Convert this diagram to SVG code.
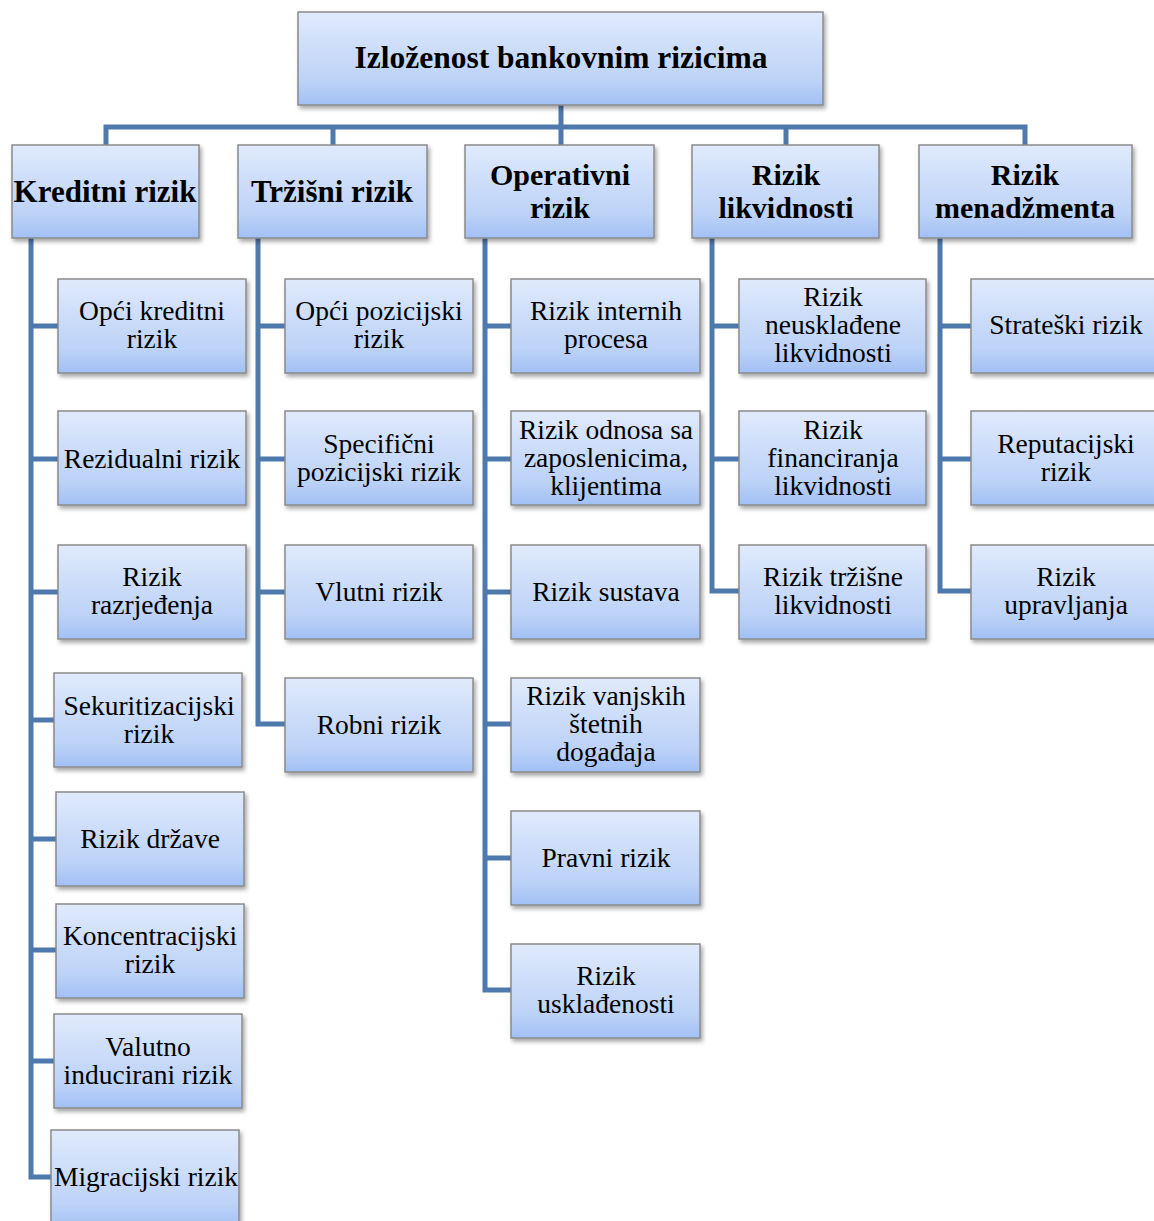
<svg xmlns="http://www.w3.org/2000/svg" width="1154" height="1221" viewBox="0 0 1154 1221">
<defs>
<linearGradient id="g" x1="0" y1="0" x2="0" y2="1">
<stop offset="0" stop-color="#e0eafc"/>
<stop offset="0.75" stop-color="#bcd2f7"/>
<stop offset="1" stop-color="#a2c0f5"/>
</linearGradient>
<filter id="sh" x="-10%" y="-10%" width="125%" height="130%">
<feDropShadow dx="2" dy="3" stdDeviation="2" flood-color="#000" flood-opacity="0.35"/>
</filter>
<style>
.b{fill:url(#g);stroke:#8a8a8a;stroke-width:1.5;filter:url(#sh)}
.h{font-family:"Liberation Serif","DejaVu Serif",serif;font-weight:bold;font-size:31px;fill:#000;text-anchor:middle}
.h2{font-family:"Liberation Serif","DejaVu Serif",serif;font-weight:bold;font-size:30px;fill:#000;text-anchor:middle}
.r{font-family:"Liberation Serif","DejaVu Serif",serif;font-weight:bold;font-size:31.5px;fill:#000;text-anchor:middle}
.t{font-family:"Liberation Serif","DejaVu Serif",serif;font-size:27.5px;fill:#000;text-anchor:middle}
.c{fill:none;stroke:#4e79ad;stroke-width:5;stroke-linejoin:miter}
</style>
</defs>
<rect width="1154" height="1221" fill="#fff"/>
<g id="connectors">
<path class="c" d="M106 145V127H1025V145M561 105V145M333 127V145M786 127V145"/>
<path class="c" d="M31 238V1177H51M31 326H58M31 459H58M31 592H58M31 720H54M31 839H56M31 950H56M31 1061H54"/>
<path class="c" d="M258 238V724H285M258 326H285M258 459H285M258 592H285"/>
<path class="c" d="M485 238V990H511M485 326H511M485 459H511M485 592H511M485 724H511M485 858H511"/>
<path class="c" d="M712 238V591H739M712 326H739M712 459H739"/>
<path class="c" d="M940 238V591H971M940 326H971M940 459H971"/>
</g>
<g id="root"><rect class="b" x="298" y="12" width="525" height="93"/><text class="r" x="561" y="68">Izloženost bankovnim rizicima</text></g>
<g id="kreditni"><rect class="b" x="12" y="145" width="187" height="93"/><text class="h" x="105" y="202">Kreditni rizik</text></g>
<g id="trzisni"><rect class="b" x="238" y="145" width="189" height="93"/><text class="h" x="332" y="202">Tržišni rizik</text></g>
<g id="operativni"><rect class="b" x="465" y="145" width="189" height="93"/><text class="h2" x="560" y="185">Operativni</text><text class="h2" x="560" y="218">rizik</text></g>
<g id="likvidnosti"><rect class="b" x="692" y="145" width="187" height="93"/><text class="h2" x="786" y="185">Rizik</text><text class="h2" x="786" y="218">likvidnosti</text></g>
<g id="menadzmenta"><rect class="b" x="919" y="145" width="213" height="93"/><text class="h2" x="1025" y="185">Rizik</text><text class="h2" x="1025" y="218">menadžmenta</text></g>

<g id="k1"><rect class="b" x="58" y="279" width="188" height="94"/><text class="t" x="152" y="320">Opći kreditni</text><text class="t" x="152" y="348">rizik</text></g>
<g id="k2"><rect class="b" x="58" y="411" width="188" height="94"/><text class="t" x="152" y="468">Rezidualni rizik</text></g>
<g id="k3"><rect class="b" x="58" y="545" width="188" height="94"/><text class="t" x="152" y="586">Rizik</text><text class="t" x="152" y="614">razrjeđenja</text></g>
<g id="k4"><rect class="b" x="54" y="673" width="188" height="94"/><text class="t" x="149" y="715">Sekuritizacijski</text><text class="t" x="149" y="743">rizik</text></g>
<g id="k5"><rect class="b" x="56" y="792" width="188" height="94"/><text class="t" x="150" y="848">Rizik države</text></g>
<g id="k6"><rect class="b" x="56" y="904" width="188" height="94"/><text class="t" x="150" y="945">Koncentracijski</text><text class="t" x="150" y="973">rizik</text></g>
<g id="k7"><rect class="b" x="54" y="1014" width="188" height="94"/><text class="t" x="148" y="1056">Valutno</text><text class="t" x="148" y="1084">inducirani rizik</text></g>
<g id="k8"><rect class="b" x="51" y="1130" width="188" height="100"/><text class="t" x="146" y="1186">Migracijski rizik</text></g>

<g id="t1"><rect class="b" x="285" y="279" width="188" height="94"/><text class="t" x="379" y="320">Opći pozicijski</text><text class="t" x="379" y="348">rizik</text></g>
<g id="t2"><rect class="b" x="285" y="411" width="188" height="94"/><text class="t" x="379" y="453">Specifični</text><text class="t" x="379" y="481">pozicijski rizik</text></g>
<g id="t3"><rect class="b" x="285" y="545" width="188" height="94"/><text class="t" x="379" y="601">Vlutni rizik</text></g>
<g id="t4"><rect class="b" x="285" y="678" width="188" height="94"/><text class="t" x="379" y="734">Robni rizik</text></g>

<g id="o1"><rect class="b" x="511" y="279" width="189" height="94"/><text class="t" x="606" y="320">Rizik internih</text><text class="t" x="606" y="348">procesa</text></g>
<g id="o2"><rect class="b" x="511" y="411" width="189" height="94"/><text class="t" x="606" y="439">Rizik odnosa sa</text><text class="t" x="606" y="467">zaposlenicima,</text><text class="t" x="606" y="495">klijentima</text></g>
<g id="o3"><rect class="b" x="511" y="545" width="189" height="94"/><text class="t" x="606" y="601">Rizik sustava</text></g>
<g id="o4"><rect class="b" x="511" y="678" width="189" height="94"/><text class="t" x="606" y="705">Rizik vanjskih</text><text class="t" x="606" y="733">štetnih</text><text class="t" x="606" y="761">događaja</text></g>
<g id="o5"><rect class="b" x="511" y="811" width="189" height="94"/><text class="t" x="606" y="867">Pravni rizik</text></g>
<g id="o6"><rect class="b" x="511" y="944" width="189" height="94"/><text class="t" x="606" y="985">Rizik</text><text class="t" x="606" y="1013">usklađenosti</text></g>

<g id="l1"><rect class="b" x="739" y="279" width="187" height="94"/><text class="t" x="833" y="306">Rizik</text><text class="t" x="833" y="334">neusklađene</text><text class="t" x="833" y="362">likvidnosti</text></g>
<g id="l2"><rect class="b" x="739" y="411" width="187" height="94"/><text class="t" x="833" y="439">Rizik</text><text class="t" x="833" y="467">financiranja</text><text class="t" x="833" y="495">likvidnosti</text></g>
<g id="l3"><rect class="b" x="739" y="545" width="187" height="94"/><text class="t" x="833" y="586">Rizik tržišne</text><text class="t" x="833" y="614">likvidnosti</text></g>

<g id="m1"><rect class="b" x="971" y="279" width="190" height="94"/><text class="t" x="1066" y="334">Strateški rizik</text></g>
<g id="m2"><rect class="b" x="971" y="411" width="190" height="94"/><text class="t" x="1066" y="453">Reputacijski</text><text class="t" x="1066" y="481">rizik</text></g>
<g id="m3"><rect class="b" x="971" y="545" width="190" height="94"/><text class="t" x="1066" y="586">Rizik</text><text class="t" x="1066" y="614">upravljanja</text></g>
</svg>
